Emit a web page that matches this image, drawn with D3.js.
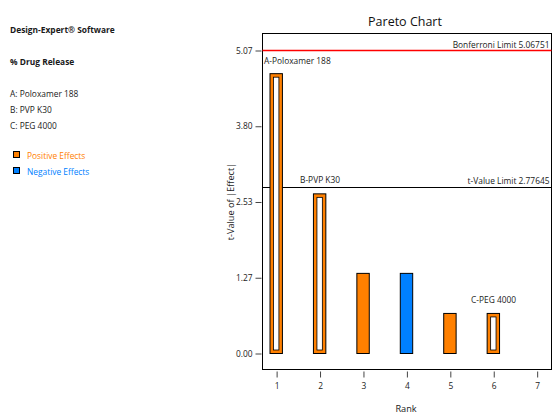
<!DOCTYPE html>
<html><head><meta charset="utf-8">
<script src="https://cdn.jsdelivr.net/npm/d3@7"></script>
<style>body{margin:0;background:#fff}svg{display:block;font-family:"Open Sans",sans-serif}</style>
</head><body><svg id="c" width="552" height="417"></svg>
<script>
const ranks = [1, 2, 3, 4, 5, 6];
const tValues = [4.68, 2.67, 1.34, 1.34, 0.67, 0.67];
const signs = ["pos", "pos", "pos", "neg", "pos", "pos"];
const termLabels = ["A-Poloxamer 188", "B-PVP K30", null, null, null, "C-PEG 4000"];
const mainEffect = [true, true, false, false, false, true];
const yTicks = [0, 1.2669, 2.5338, 3.8006, 5.06751];
const yTickLabels = ["0.00", "1.27", "2.53", "3.80", "5.07"];
const xTicks = [1, 2, 3, 4, 5, 6, 7];
const bonferroni = 5.06751, tLimit = 2.77645;
const factors = ["A: Poloxamer 188", "B: PVP K30", "C: PEG 4000"];

const svg = d3.select("#c");
const L = 262.5, R = 551.5, T = 33.5, B = 369.5;
const x = d3.scaleLinear().domain([0.675, 7.33]).range([L, R]);
const y = d3.scaleLinear().domain([0, 5.06751]).range([353.5, 50.5]);
const orange = "#ff8000", blue = "#0080ff";
const fs = 8.4;

// left panel
const lp = svg.append("g").attr("font-size", fs).attr("fill", "#1a1a1a");
lp.append("text").attr("x", 10).attr("y", 33).attr("font-weight", "bold").text("Design-Expert® Software");
lp.append("text").attr("x", 10).attr("y", 65).attr("font-weight", "bold").text("% Drug Release");
factors.forEach((f, i) => lp.append("text").attr("x", 10).attr("y", 97 + i * 16).text(f));
[["Positive Effects", orange], ["Negative Effects", blue]].forEach((d, i) => {
  lp.append("rect").attr("x", 13.5).attr("y", 151.5 + i * 16).attr("width", 6).attr("height", 6)
    .attr("fill", d[1]).attr("stroke", "#000").attr("stroke-width", 1);
  lp.append("text").attr("x", 27).attr("y", 159 + i * 16).attr("fill", d[1]).text(d[0]);
});

// title
svg.append("text").attr("x", 405).attr("y", 26).attr("text-anchor", "middle").attr("font-size", 12.5).attr("fill", "#111").text("Pareto Chart");

// box
svg.append("rect").attr("x", L).attr("y", T).attr("width", R - L).attr("height", B - T).attr("fill", "none").attr("stroke", "#000").attr("stroke-width", 1);

// y axis
const yAxis = d3.axisLeft(y).tickValues(yTicks).tickFormat((d, i) => yTickLabels[i]).tickSize(6).tickPadding(3);
const ga = svg.append("g").attr("transform", `translate(${L - 1},0)`).call(yAxis);
ga.select(".domain").remove();
ga.selectAll("text").attr("font-size", fs).attr("fill", "#222").attr("font-family", "Open Sans");
ga.selectAll("line").attr("stroke", "#444");

// x axis
const xAxis = d3.axisBottom(x).tickValues(xTicks).tickFormat(d3.format("d")).tickSize(6).tickPadding(6);
const gx = svg.append("g").attr("transform", `translate(0,${B + 2})`).call(xAxis);
gx.select(".domain").remove();
gx.selectAll("text").attr("font-size", fs).attr("fill", "#222").attr("font-family", "Open Sans");
gx.selectAll("line").attr("stroke", "#444");

// axis titles
svg.append("text").attr("transform", `translate(234,${(T + B) / 2}) rotate(-90)`).attr("text-anchor", "middle")
  .attr("font-size", 9.2).attr("fill", "#222").text("t-Value of |Effect|");
svg.append("text").attr("x", 406).attr("y", 412).attr("text-anchor", "middle").attr("font-size", 9.2).attr("fill", "#222").text("Rank");

// limit lines
svg.append("line").attr("x1", L).attr("x2", R).attr("y1", y(bonferroni)).attr("y2", y(bonferroni)).attr("stroke", "#ff0000").attr("stroke-width", 1.3);
svg.append("text").attr("x", R - 2).attr("y", y(bonferroni) - 3).attr("text-anchor", "end").attr("font-size", fs).attr("fill", "#222").text("Bonferroni Limit 5.06751");
svg.append("line").attr("x1", L).attr("x2", R).attr("y1", y(tLimit)).attr("y2", y(tLimit)).attr("stroke", "#000").attr("stroke-width", 1.2);
svg.append("text").attr("x", R - 2).attr("y", y(tLimit) - 3).attr("text-anchor", "end").attr("font-size", fs).attr("fill", "#222").text("t-Value Limit 2.77645");

// bars
const bw = 12.4;
ranks.forEach((r, i) => {
  const cx = x(r) - 0.4, top = y(tValues[i]), bot = y(0);
  const col = signs[i] === "pos" ? orange : blue;
  svg.append("rect").attr("x", cx - bw / 2).attr("y", top).attr("width", bw).attr("height", bot - top)
    .attr("fill", col).attr("stroke", "#000").attr("stroke-width", 1);
  if (mainEffect[i]) {
    svg.append("rect").attr("x", cx - bw / 2 + 3.5).attr("y", top + 3.5).attr("width", bw - 7).attr("height", bot - top - 7)
      .attr("fill", "#fff").attr("stroke", "#000").attr("stroke-width", 0.8);
  }
});

// term labels
const labelPos = [[264, 64], [300, 183], [471, 303]];
let k = 0;
termLabels.forEach((t, i) => {
  if (!t) return;
  svg.append("text").attr("x", labelPos[k][0]).attr("y", labelPos[k][1]).attr("font-size", fs).attr("fill", "#222").text(t);
  k++;
});
</script></body></html>
